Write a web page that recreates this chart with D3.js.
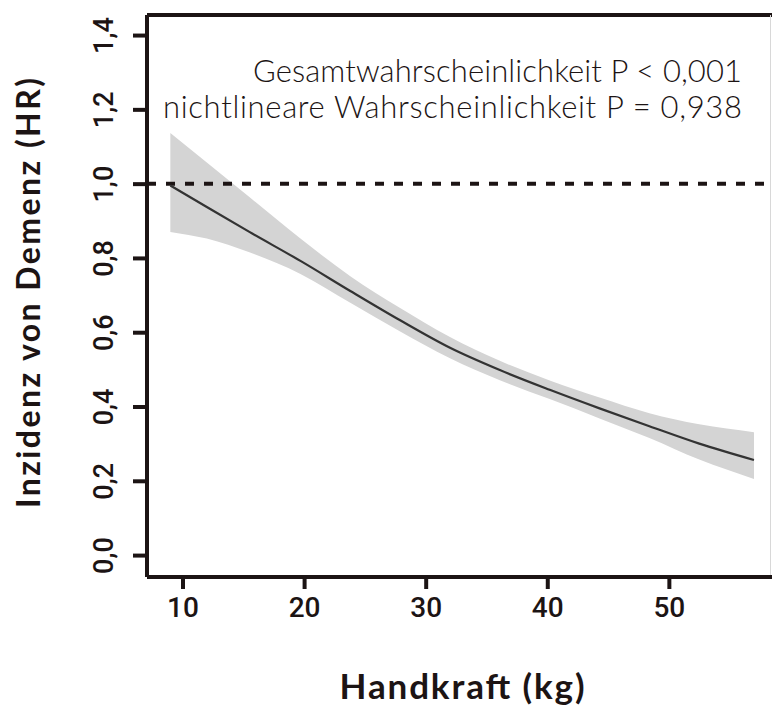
<!DOCTYPE html>
<html>
<head>
<meta charset="utf-8">
<script src="https://cdn.jsdelivr.net/npm/d3@7"></script>
<style>
  body { margin: 0; background: #fff; }
  svg { display: block; font-family: Lato, "DejaVu Sans", sans-serif; }
</style>
</head>
<body>
<svg width="772" height="708"></svg>
<script>
// values
const handkraft = [9, 12, 15.5, 19.7, 23.8, 27.9, 32, 36.1, 40.2, 44.3, 48.4, 52.5, 57]
const hr        = [0.995, 0.937, 0.87, 0.792, 0.711, 0.632, 0.558, 0.498, 0.445, 0.395, 0.347, 0.300, 0.256]
const hrUpper   = [1.136, 1.057, 0.964, 0.852, 0.751, 0.665, 0.587, 0.523, 0.470, 0.424, 0.382, 0.352, 0.331]
const hrLower   = [0.870, 0.852, 0.815, 0.757, 0.679, 0.602, 0.530, 0.471, 0.420, 0.368, 0.315, 0.257, 0.205]

const xTicks = [10, 20, 30, 40, 50]
const yTicks = [0, 0.2, 0.4, 0.6, 0.8, 1.0, 1.2, 1.4]
const refLine = 1.0
const noteLines = ['Gesamtwahrscheinlichkeit P < 0,001', 'nichtlineare Wahrscheinlichkeit P = 0,938']
const noteWidths = [489, 579]

const ink = '#1c1414'
const svg = d3.select('svg')
const margin = {top: 15, right: 1, bottom: 131, left: 147}
const width = 772 - margin.left - margin.right
const height = 708 - margin.top - margin.bottom

const g = svg.append('g').attr('transform', 'translate(' + margin.left + ',' + margin.top + ')')

const x = d3.scaleLinear().domain([7.08, 58.4]).range([0, width])
const y = d3.scaleLinear().domain([-0.059, 1.454]).range([height, 0])

const data = handkraft.map((k, i) => ({k: k, v: hr[i], lo: hrLower[i], hi: hrUpper[i]}))

// confidence band
g.append('path')
  .datum(data)
  .attr('fill', '#d4d4d4')
  .attr('d', d3.area().curve(d3.curveMonotoneX)
    .x(d => x(d.k)).y0(d => y(d.lo)).y1(d => y(d.hi)))

// reference line at HR = 1
g.append('line')
  .attr('x1', 0).attr('x2', width)
  .attr('y1', y(refLine)).attr('y2', y(refLine))
  .attr('stroke', ink).attr('stroke-width', 4)
  .attr('stroke-dasharray', '9,10')

// estimate
g.append('path')
  .datum(data)
  .attr('fill', 'none')
  .attr('stroke', '#333')
  .attr('stroke-width', 2.2)
  .attr('d', d3.line().curve(d3.curveMonotoneX).x(d => x(d.k)).y(d => y(d.v)))

// frame (top + faint right edge)
g.append('line').attr('x1', 0).attr('x2', width + 2).attr('y1', 0).attr('y2', 0)
  .attr('stroke', ink).attr('stroke-width', 4)
g.append('line').attr('x1', width - 0.5).attr('x2', width - 0.5).attr('y1', 0).attr('y2', height)
  .attr('stroke', '#d8d8d8').attr('stroke-width', 1)

const comma = d => d3.format('.1f')(d).replace('.', ',')

// y axis
const yAxis = g.append('g')
  .call(d3.axisLeft(y).tickValues(yTicks).tickSize(14).tickFormat(comma))
yAxis.select('.domain').attr('d', 'M0,0V' + height).attr('stroke', ink).attr('stroke-width', 4)
yAxis.selectAll('.tick line').attr('stroke', ink).attr('stroke-width', 4)
yAxis.selectAll('.tick text')
  .attr('transform', 'rotate(-90)')
  .attr('x', 0).attr('y', -34).attr('dy', 0)
  .attr('text-anchor', 'middle')
  .attr('fill', ink)
  .style('font-family', 'Roboto, sans-serif')
  .style('font-size', '27px')
  .style('font-weight', 500)

// x axis
const xAxis = g.append('g')
  .attr('transform', 'translate(0,' + height + ')')
  .call(d3.axisBottom(x).tickValues(xTicks).tickSize(12))
xAxis.select('.domain').attr('d', 'M0,0H' + (width + 2)).attr('stroke', ink).attr('stroke-width', 4)
xAxis.selectAll('.tick line').attr('stroke', ink).attr('stroke-width', 4)
xAxis.selectAll('.tick text')
  .attr('y', 40).attr('dy', 0)
  .attr('fill', ink)
  .style('font-family', 'Roboto, sans-serif')
  .style('font-size', '28px')
  .style('font-weight', 500)

// annotation
g.selectAll('.note')
  .data(noteLines)
  .enter().append('text')
  .attr('class', 'note')
  .attr('x', 595)
  .attr('y', (d, i) => 67 + i * 36)
  .attr('text-anchor', 'end')
  .attr('textLength', (d, i) => noteWidths[i])
  .attr('fill', ink)
  .style('font-size', '31px')
  .style('font-weight', 300)
  .text(d => d)

// axis titles
svg.append('text')
  .attr('transform', 'translate(40,293) rotate(-90)')
  .attr('text-anchor', 'middle')
  .attr('textLength', 430)
  .attr('fill', ink)
  .style('font-size', '32px')
  .style('font-weight', 'bold')
  .text('Inzidenz von Demenz (HR)')

svg.append('text')
  .attr('x', 462).attr('y', 699)
  .attr('text-anchor', 'middle')
  .attr('textLength', 245)
  .attr('fill', ink)
  .style('font-size', '35px')
  .style('font-weight', 'bold')
  .text('Handkraft (kg)')
</script>
</body>
</html>
